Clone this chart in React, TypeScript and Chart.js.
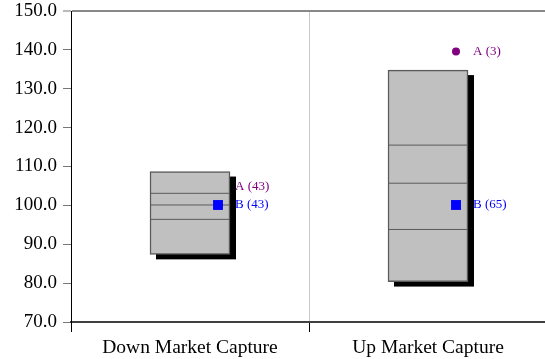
import React, { useEffect, useRef } from "react";
import { Chart, registerables } from "chart.js";

Chart.register(...registerables);

const categories = ["Down Market Capture", "Up Market Capture"];
const boxLow = [87.4, 80.4];
const boxHigh = [108.7, 134.8];
const upperLine = [103.1, 115.5];
const midLine = [100.1, 105.7];
const lowerLine = [96.4, 93.8];
const seriesA = [100.0, 139.6];
const countsA = [43, 3];
const seriesB = [100.1, 100.1];
const countsB = [43, 65];
const yMin = 70;
const yMax = 150;
const yStep = 10;

const FONT = "'Liberation Serif', 'Times New Roman', Times, serif";

const shadowPlugin = {
  id: "boxShadow",
  beforeDatasetDraw(chart: any, args: any) {
    if (args.meta.type !== "bar") return;
    const ctx = chart.ctx;
    ctx.save();
    ctx.fillStyle = "#000";
    args.meta.data.forEach((el: any) => {
      const top = Math.min(el.y, el.base);
      const h = Math.abs(el.base - el.y);
      ctx.fillRect(el.x - el.width / 2 + 6, top + 5, el.width, h);
    });
    ctx.restore();
  },
};

const shiftPlugin = {
  id: "pointShift",
  afterDatasetsUpdate(chart: any) {
    chart.data.datasets.forEach((ds: any, i: number) => {
      if (!ds.shiftX) return;
      const meta = chart.getDatasetMeta(i);
      meta.data.forEach((el: any) => {
        el.x += ds.shiftX;
      });
    });
  },
};

const labelPlugin = {
  id: "pointLabels",
  afterDatasetsDraw(chart: any) {
    const ctx = chart.ctx;
    const idxA = chart.data.datasets.findIndex((d: any) => d.tag === "A");
    const idxB = chart.data.datasets.findIndex((d: any) => d.tag === "B");
    const metaA = chart.getDatasetMeta(idxA);
    const metaB = chart.getDatasetMeta(idxB);
    ctx.save();
    ctx.font = `13px ${FONT}`;
    ctx.textAlign = "left";
    ctx.textBaseline = "middle";
    categories.forEach((_, i) => {
      const a = metaA.data[i];
      const b = metaB.data[i];
      let ya = a.y;
      const yb = b.y;
      if (Math.abs(ya - yb) < 16) ya = yb - 18;
      ctx.fillStyle = "#800080";
      ctx.fillText(`A (${countsA[i]})`, a.x + 17, ya);
      ctx.fillStyle = "#0000ff";
      ctx.fillText(`B (${countsB[i]})`, b.x + 17, yb);
    });
    ctx.restore();
  },
};

export default function App() {
  const ref = useRef<HTMLCanvasElement | null>(null);

  useEffect(() => {
    if (!ref.current) return;
    const lineDs = (vals: number[]) => ({
      type: "line" as const,
      data: vals,
      showLine: false,
      pointStyle: "line",
      pointRadius: 40,
      pointHoverRadius: 40,
      pointBorderColor: "#5a5a5a",
      pointBorderWidth: 1,
      order: 3,
    });
    const chart = new Chart(ref.current, {
      type: "bar",
      data: {
        labels: categories,
        datasets: [
          {
            type: "line" as const,
            tag: "B",
            shiftX: 28,
            data: seriesB,
            showLine: false,
            pointStyle: "rect",
            pointRadius: 7,
            pointBackgroundColor: "#0000ff",
            pointBorderColor: "#0000ff",
            pointBorderWidth: 0,
            order: 1,
          } as any,
          {
            type: "line" as const,
            tag: "A",
            shiftX: 28,
            data: seriesA,
            showLine: false,
            pointStyle: "circle",
            pointRadius: 4,
            pointBackgroundColor: "#800080",
            pointBorderColor: "#800080",
            pointBorderWidth: 0,
            order: 2,
          } as any,
          lineDs(upperLine) as any,
          lineDs(midLine) as any,
          lineDs(lowerLine) as any,
          {
            type: "bar" as const,
            data: boxLow.map((lo, i) => [lo, boxHigh[i]]),
            backgroundColor: "#c0c0c0",
            borderColor: "#5a5a5a",
            borderWidth: 1.5,
            borderSkipped: false,
            barThickness: 80,
            order: 4,
          } as any,
        ],
      },
      options: {
        animation: false,
        responsive: false,
        maintainAspectRatio: false,
        layout: {
          autoPadding: false,
          padding: { top: 11, left: 0, right: 0, bottom: 0 },
        },
        plugins: {
          legend: { display: false },
          tooltip: { enabled: false },
        },
        scales: {
          x: {
            type: "category",
            offset: true,
            grid: {
              offset: true,
              drawOnChartArea: true,
              color: (c: any) => (c.index === 1 ? "#c8c8c8" : "transparent"),
              tickColor: (c: any) =>
                c.index === 0 || c.index === 1 ? "#000" : "transparent",
              tickLength: 10,
              lineWidth: 1,
              tickWidth: 1,
            },
            border: { display: true, color: "#404040", width: 2 },
            ticks: {
              color: "#000",
              font: { family: FONT, size: 19.5 },
              padding: 4,
              maxRotation: 0,
            },
            afterFit: (s: any) => {
              s.height = 37;
              s.paddingLeft = 0;
              s.paddingRight = 0;
            },
          },
          y: {
            type: "linear",
            min: yMin,
            max: yMax,
            ticks: {
              stepSize: yStep,
              color: "#000",
              font: { family: FONT, size: 19 },
              padding: 6,
              callback: (v: any) => Number(v).toFixed(1),
            },
            grid: {
              color: (c: any) =>
                c.tick && c.tick.value === yMax ? "#888888" : "transparent",
              lineWidth: (c: any) => (c.tick && c.tick.value === yMax ? 2 : 1),
              tickColor: "#777777",
              tickLength: 8,
              tickWidth: 1,
            },
            border: { display: true, color: "#000", width: 1 },
            afterFit: (s: any) => {
              s.width = 71;
              s.paddingTop = 0;
              s.paddingBottom = 0;
            },
          },
        },
      } as any,
      plugins: [shiftPlugin, shadowPlugin, labelPlugin],
    });
    return () => chart.destroy();
  }, []);

  return (
    <div
      style={{
        position: "absolute",
        left: 0,
        top: 0,
        width: 545,
        height: 359,
        overflow: "hidden",
        background: "#fff",
      }}
    >
      <canvas ref={ref} width={547} height={359} style={{ display: "block" }} />
    </div>
  );
}
